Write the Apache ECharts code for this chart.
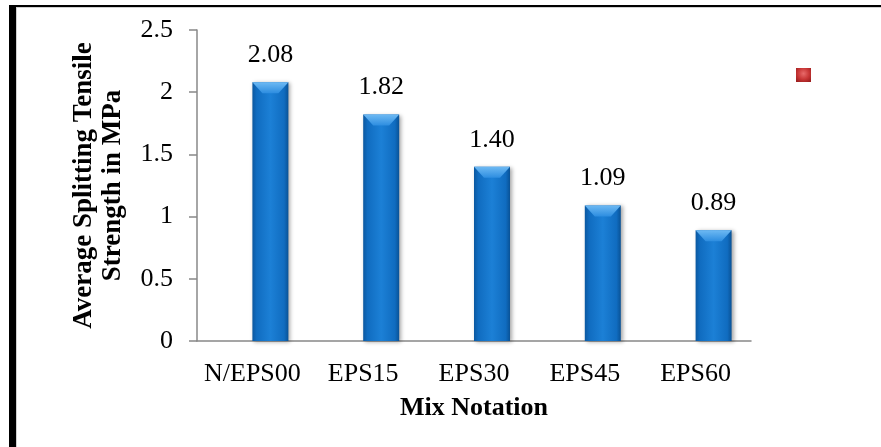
<!DOCTYPE html>
<html>
<head>
<meta charset="utf-8">
<script src="https://cdn.jsdelivr.net/npm/echarts@6/dist/echarts.min.js"></script>
<style>
  html, body { margin: 0; padding: 0; background: #fff; }
  #frame {
    position: absolute; left: 9px; top: 5px; width: 872px; height: 442px;
    border-left: 7px solid #000; border-top: 2px solid #000;
    box-sizing: border-box;
  }
  #frame::after {
    content: ''; position: absolute; left: 0; top: 0; right: 0; bottom: 0;
    border-left: 1px solid #d0d0d0; border-top: 1px solid #d0d0d0;
  }
  #chart { position: absolute; left: 0; top: 0; width: 881px; height: 447px; }
</style>
</head>
<body>
<div id="frame"></div>
<div id="chart"></div>
<script>
// Mix designs and their measured average splitting tensile strength (MPa)
const mixes = ['N/EPS00', 'EPS15', 'EPS30', 'EPS45', 'EPS60'];
const strength = [2.08, 1.82, 1.40, 1.09, 0.89];
const yTicks = [0, 0.5, 1, 1.5, 2, 2.5];

const FONT = "'Liberation Serif', 'Times New Roman', serif";
const BAR_W = 36;

const chart = echarts.init(document.getElementById('chart'), null, { renderer: 'canvas' });

const blueFill = new echarts.graphic.LinearGradient(0, 0, 1, 0, [
  { offset: 0, color: '#0b58a0' },
  { offset: 0.12, color: '#106cc0' },
  { offset: 0.5, color: '#1c80d6' },
  { offset: 0.88, color: '#106cc0' },
  { offset: 1, color: '#095296' }
]);

const redFill = new echarts.graphic.RadialGradient(0.5, 0.4, 0.7, [
  { offset: 0, color: '#e86a6a' },
  { offset: 0.6, color: '#c73535' },
  { offset: 1, color: '#9e2020' }
]);

chart.setOption({
  animation: false,
  backgroundColor: 'transparent',
  grid: { left: 197, right: 130, top: 30, bottom: 106, containLabel: false },
  legend: {
    data: ['Series 1'],
    left: 791, top: 63,
    icon: 'rect', itemWidth: 15, itemHeight: 14,
    formatter: () => '',
    selectedMode: false
  },
  xAxis: {
    type: 'category',
    data: mixes,
    name: 'Mix Notation',
    nameLocation: 'middle',
    nameGap: 54,
    nameTextStyle: { fontFamily: FONT, fontSize: 26, fontWeight: 'bold', color: '#000' },
    axisLine: { lineStyle: { color: '#888', width: 1.5 } },
    axisTick: { show: false },
    axisLabel: { fontFamily: FONT, fontSize: 26, color: '#000', margin: 20, interval: 0 }
  },
  yAxis: {
    type: 'value',
    min: yTicks[0], max: yTicks[yTicks.length - 1], interval: 0.5,
    name: 'Average Splitting Tensile\nStrength in MPa',
    nameLocation: 'middle',
    nameGap: 69,
    nameTextStyle: { fontFamily: FONT, fontSize: 27, fontWeight: 'bold', color: '#000', lineHeight: 29 },
    axisLine: { show: true, lineStyle: { color: '#888', width: 1.5 } },
    axisTick: { show: true, inside: false, length: 8, lineStyle: { color: '#888', width: 1.5 } },
    splitLine: { show: false },
    axisLabel: { fontFamily: FONT, fontSize: 26, color: '#000', margin: 24 }
  },
  series: [
    {
      name: 'Series 1',
      type: 'bar',
      data: [],
      barWidth: BAR_W,
      barGap: '0%',
      itemStyle: { color: redFill }
    },
    {
      name: 'Series 2',
      type: 'bar',
      data: strength,
      barWidth: BAR_W,
      barGap: '0%',
      itemStyle: {
        color: blueFill,
        shadowColor: 'rgba(0,0,0,0.35)',
        shadowBlur: 4,
        shadowOffsetX: 2,
        shadowOffsetY: 1
      },
      label: {
        show: true,
        position: 'top',
        distance: 14,
        fontFamily: FONT,
        fontSize: 26,
        color: '#000',
        formatter: p => p.value.toFixed(2)
      }
    },
    {
      // bevelled cap on top of each blue bar
      name: 'cap',
      type: 'custom',
      silent: true,
      z: 3,
      data: strength.map((v, i) => [i, v]),
      renderItem: (params, api) => {
        const top = api.coord([api.value(0), api.value(1)]);
        const x0 = top[0], x1 = top[0] + BAR_W, y = top[1];
        const inset = 10, h = 11;
        return {
          type: 'polygon',
          shape: { points: [[x0, y], [x1, y], [x1 - inset, y + h], [x0 + inset, y + h]] },
          style: {
            fill: new echarts.graphic.LinearGradient(0, 0, 0, 1, [
              { offset: 0, color: '#6db9f3' },
              { offset: 1, color: '#2d8de0' }
            ])
          }
        };
      }
    }
  ]
});
</script>
</body>
</html>
